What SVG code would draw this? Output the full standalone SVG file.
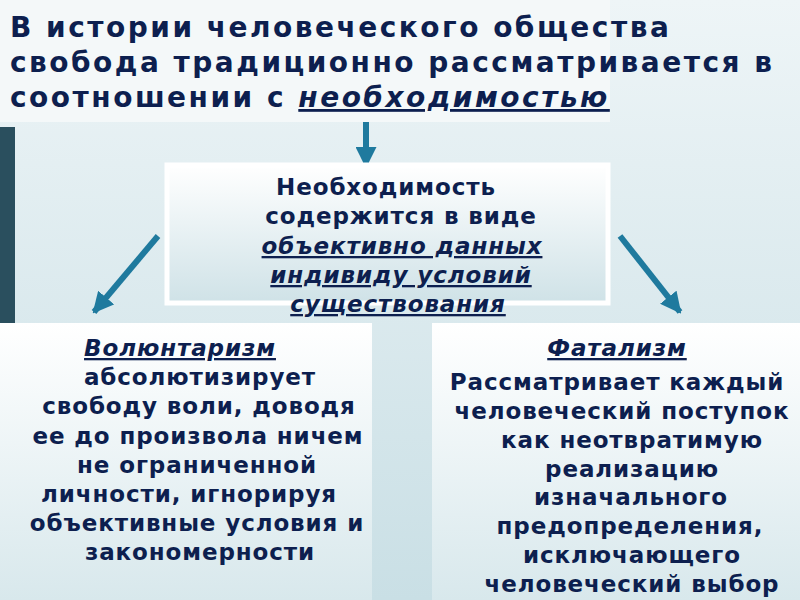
<svg xmlns="http://www.w3.org/2000/svg" width="800" height="600" viewBox="0 0 800 600">
<defs>
<linearGradient id="bg" x1="0" y1="0" x2="0" y2="1"><stop offset="0" stop-color="#eef5f7"/><stop offset="1" stop-color="#c9dfe5"/></linearGradient>
<linearGradient id="box" x1="0" y1="0" x2="0" y2="1"><stop offset="0" stop-color="#ffffff"/><stop offset="1" stop-color="#cfe2e7"/></linearGradient>
<linearGradient id="side" x1="0" y1="0" x2="0" y2="1"><stop offset="0" stop-color="#ffffff"/><stop offset="1" stop-color="#d8e8ec"/></linearGradient>
<marker id="ah" viewBox="0 0 10 10" refX="9" refY="5" markerWidth="3.5" markerHeight="3.5" orient="auto"><path d="M0,0 L10,5 L0,10 z" fill="#1f7a9e"/></marker>
</defs>
<style>
text{font-family:"DejaVu Sans",sans-serif;font-weight:bold;fill:#0d1f4f}
.t{font-size:28px;letter-spacing:2.5px}
.c{font-size:23px;text-anchor:middle;letter-spacing:0.9px}
.i{font-style:italic;text-decoration:underline}
.ar{stroke:#1f7a9e;stroke-width:6;fill:none;marker-end:url(#ah)}
</style>
<rect width="800" height="600" fill="url(#bg)"/>
<rect x="0" y="127" width="15" height="196" fill="#2a4f5e"/>
<g id="title">
<rect x="0" y="0" width="610" height="122" fill="#f4f8f9"/>
<text class="t" x="10" y="37">В истории человеческого общества</text>
<text class="t" x="10" y="72">свобода традиционно рассматривается в</text>
<text class="t" x="10" y="107">соотношении с <tspan class="i">необходимостью</tspan></text>
</g>
<g id="connectors">
<line class="ar" x1="366" y1="122" x2="366" y2="166"/>
<line class="ar" x1="158" y1="236" x2="94" y2="312"/>
<line class="ar" x1="620" y1="236" x2="680" y2="312"/>
</g>
<g id="center">
<rect x="167" y="165" width="441" height="138" fill="url(#box)" stroke="#ffffff" stroke-width="5"/>
<text class="c" x="386" y="195">Необходимость</text>
<text class="c" x="401" y="224">содержится в виде</text>
<text class="c i" x="402" y="254">объективно данных</text>
<text class="c i" x="401" y="283">индивиду условий</text>
<text class="c i" x="398" y="312">существования</text>
</g>
<g id="left">
<rect x="0" y="323" width="372" height="277" fill="url(#side)"/>
<text class="c i" x="180" y="356">Волюнтаризм</text>
<text class="c" x="200" y="385">абсолютизирует</text>
<text class="c" x="199" y="414">свободу воли, доводя</text>
<text class="c" x="198" y="444">ее до произвола ничем</text>
<text class="c" x="197" y="473">не ограниченной</text>
<text class="c" x="189" y="502">личности, игнорируя</text>
<text class="c" x="197" y="531">объективные условия и</text>
<text class="c" x="200" y="560">закономерности</text>
</g>
<g id="right">
<rect x="432" y="323" width="368" height="277" fill="url(#side)"/>
<text class="c i" x="617" y="356">Фатализм</text>
<text class="c" x="617" y="390">Рассматривает каждый</text>
<text class="c" x="622" y="419">человеческий поступок</text>
<text class="c" x="632" y="448">как неотвратимую</text>
<text class="c" x="632" y="477">реализацию</text>
<text class="c" x="631" y="505">изначального</text>
<text class="c" x="630" y="534">предопределения,</text>
<text class="c" x="632" y="563">исключающего</text>
<text class="c" x="632" y="592">человеческий выбор</text>
</g>
</svg>
